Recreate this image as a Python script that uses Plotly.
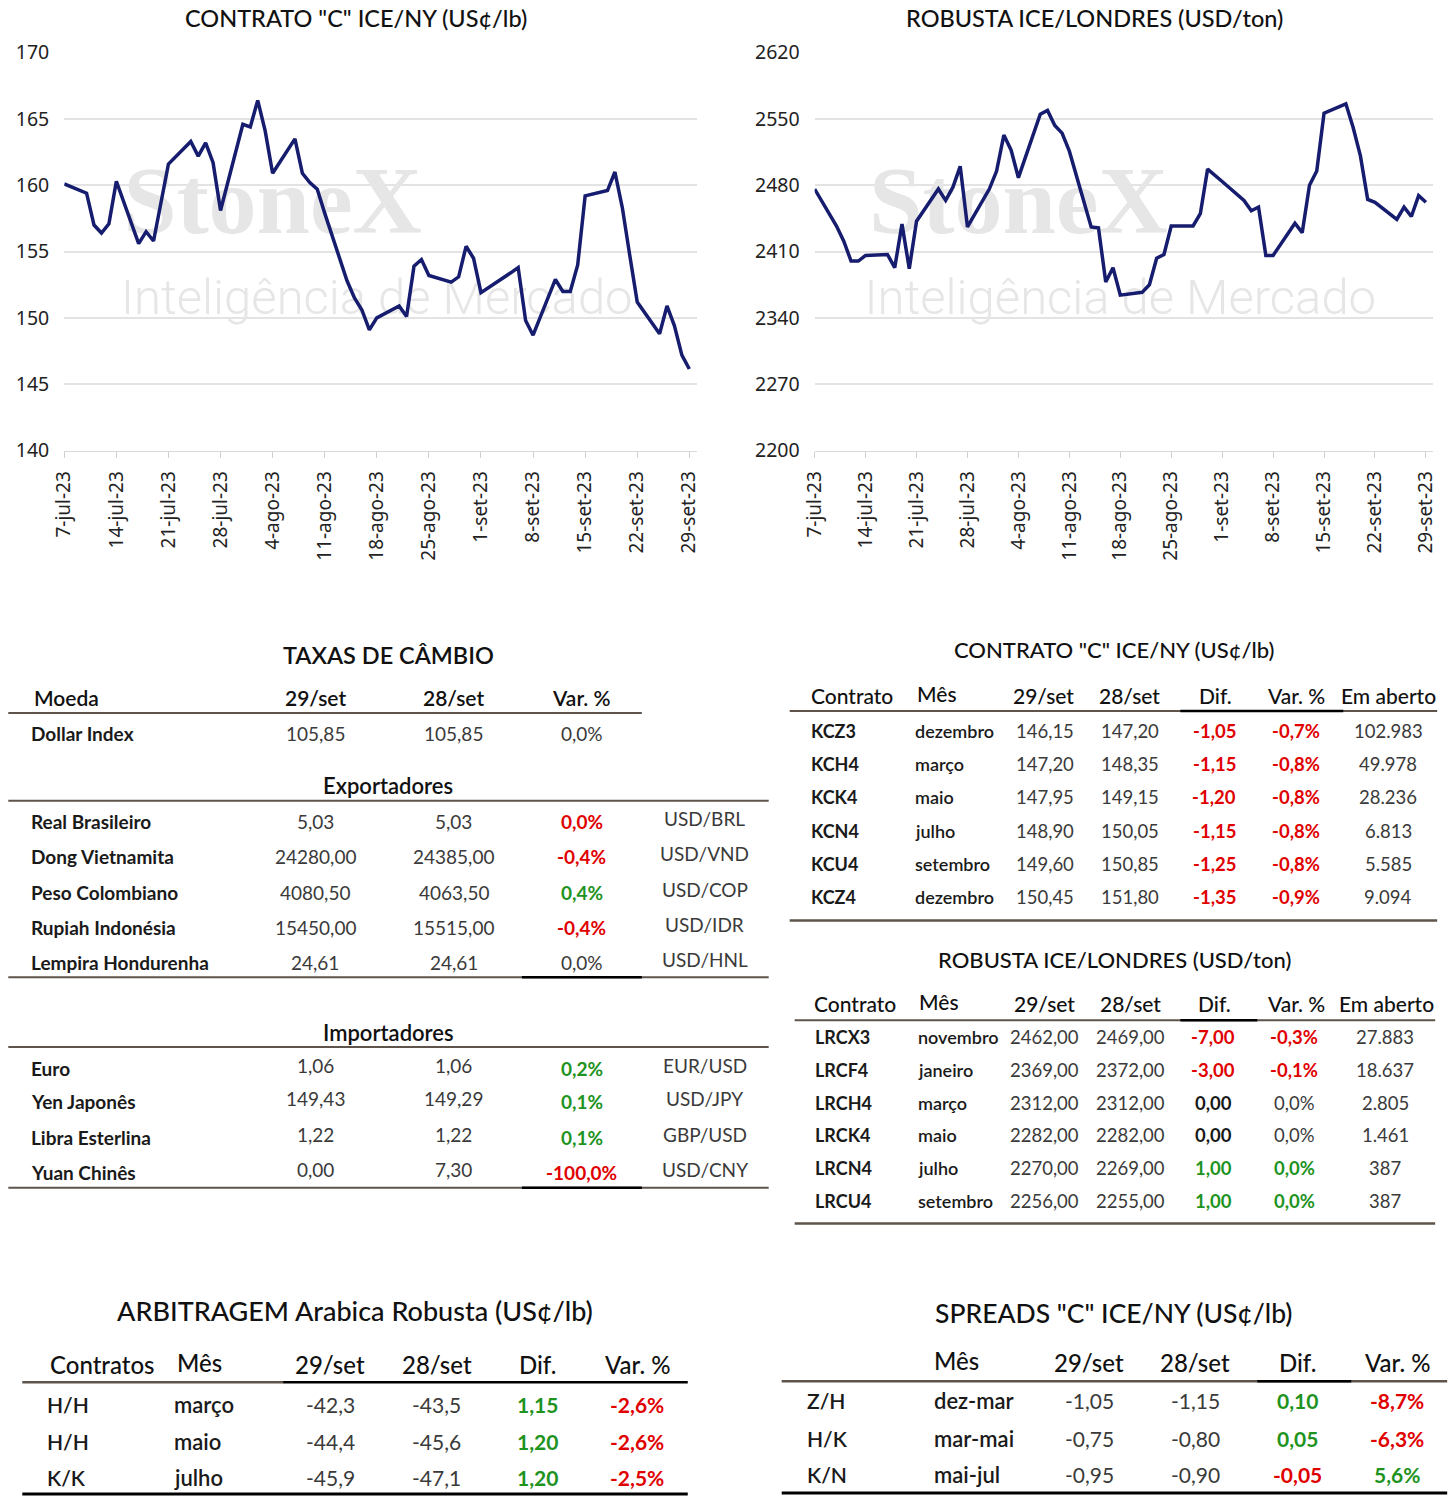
import plotly.graph_objects as go

W, H = 1453, 1500

# ---------------- chart data ----------------
ara_dates = ["2023-07-07", "2023-07-10", "2023-07-11", "2023-07-12", "2023-07-13", "2023-07-14",
             "2023-07-17", "2023-07-18", "2023-07-19", "2023-07-20", "2023-07-21",
             "2023-07-24", "2023-07-25", "2023-07-26", "2023-07-27", "2023-07-28",
             "2023-07-31", "2023-08-01", "2023-08-02", "2023-08-03", "2023-08-04",
             "2023-08-07", "2023-08-08", "2023-08-09", "2023-08-10", "2023-08-11",
             "2023-08-14", "2023-08-15", "2023-08-16", "2023-08-17", "2023-08-18",
             "2023-08-21", "2023-08-22", "2023-08-23", "2023-08-24", "2023-08-25",
             "2023-08-28", "2023-08-29", "2023-08-30", "2023-08-31", "2023-09-01",
             "2023-09-05", "2023-09-06", "2023-09-07", "2023-09-08",
             "2023-09-11", "2023-09-12", "2023-09-13", "2023-09-14", "2023-09-15",
             "2023-09-18", "2023-09-19", "2023-09-20", "2023-09-21", "2023-09-22",
             "2023-09-25", "2023-09-26", "2023-09-27", "2023-09-28", "2023-09-29"]
ara_vals = [160.1, 159.4, 157.0, 156.4, 157.1, 160.3,
            155.6, 156.5, 155.8, 158.6, 161.6,
            163.3, 162.2, 163.2, 161.7, 158.1,
            164.6, 164.4, 166.4, 164.1, 160.9,
            163.5, 160.9, 160.2, 159.7, 157.9,
            152.8, 151.5, 150.6, 149.1, 150.0,
            150.9, 150.1, 153.9, 154.4, 153.2,
            152.7, 153.1, 155.4, 154.5, 151.9,
            153.4, 153.8, 149.8, 148.7,
            152.9, 152.0, 152.0, 154.0, 159.2,
            159.6, 161.0, 158.3, 154.7, 151.2,
            148.8, 150.9, 149.4, 147.2, 146.15]

rob_dates = ["2023-07-07", "2023-07-10", "2023-07-11", "2023-07-12", "2023-07-13", "2023-07-14",
             "2023-07-17", "2023-07-18", "2023-07-19", "2023-07-20", "2023-07-21",
             "2023-07-24", "2023-07-25", "2023-07-26", "2023-07-27", "2023-07-28",
             "2023-07-31", "2023-08-01", "2023-08-02", "2023-08-03", "2023-08-04",
             "2023-08-07", "2023-08-08", "2023-08-09", "2023-08-10", "2023-08-11",
             "2023-08-14", "2023-08-15", "2023-08-16", "2023-08-17", "2023-08-18",
             "2023-08-21", "2023-08-22", "2023-08-23", "2023-08-24", "2023-08-25",
             "2023-08-28", "2023-08-29", "2023-08-30", "2023-08-31", "2023-09-01",
             "2023-09-04", "2023-09-05", "2023-09-06", "2023-09-07", "2023-09-08",
             "2023-09-11", "2023-09-12", "2023-09-13", "2023-09-14", "2023-09-15",
             "2023-09-18", "2023-09-19", "2023-09-20", "2023-09-21", "2023-09-22",
             "2023-09-25", "2023-09-26", "2023-09-27", "2023-09-28", "2023-09-29"]
rob_vals = [2476, 2437, 2421, 2400, 2400, 2406,
            2407, 2393, 2439, 2392, 2442,
            2476, 2464, 2478, 2500, 2436,
            2476, 2495, 2533, 2517, 2488,
            2555, 2559, 2543, 2535, 2516,
            2436, 2435, 2378, 2393, 2364,
            2367, 2375, 2403, 2407, 2437,
            2437, 2450, 2497, 2491, 2484,
            2464, 2453, 2457, 2406, 2406,
            2440, 2430, 2480, 2495, 2556,
            2566, 2541, 2511, 2465, 2462,
            2444, 2457, 2447, 2469, 2462]

tick_dates = ["2023-07-07", "2023-07-14", "2023-07-21", "2023-07-28", "2023-08-04", "2023-08-11",
              "2023-08-18", "2023-08-25", "2023-09-01", "2023-09-08", "2023-09-15", "2023-09-22",
              "2023-09-29"]
tick_labels = ["7-jul-23", "14-jul-23", "21-jul-23", "28-jul-23", "4-ago-23", "11-ago-23",
               "18-ago-23", "25-ago-23", "1-set-23", "8-set-23", "15-set-23", "22-set-23",
               "29-set-23"]

title_ara = 'CONTRATO "C" ICE/NY (US¢/lb)'
title_rob = 'ROBUSTA ICE/LONDRES (USD/ton)'

# ---------------- table data ----------------
fx_title = "TAXAS DE CÂMBIO"
fx_header = ["Moeda", "29/set", "28/set", "Var. %"]
dollar_row = ["Dollar Index", "105,85", "105,85", "0,0%"]
exp_title = "Exportadores"
exp_names = ["Real Brasileiro", "Dong Vietnamita", "Peso Colombiano", "Rupiah Indonésia", "Lempira Hondurenha"]
exp_d1 = ["5,03", "24280,00", "4080,50", "15450,00", "24,61"]
exp_d0 = ["5,03", "24385,00", "4063,50", "15515,00", "24,61"]
exp_var = ["0,0%", "-0,4%", "0,4%", "-0,4%", "0,0%"]
exp_dir = [-1, -1, 1, -1, 0]
exp_pair = ["USD/BRL", "USD/VND", "USD/COP", "USD/IDR", "USD/HNL"]
imp_title = "Importadores"
imp_names = ["Euro", "Yen Japonês", "Libra Esterlina", "Yuan Chinês"]
imp_d1 = ["1,06", "149,43", "1,22", "0,00"]
imp_d0 = ["1,06", "149,29", "1,22", "7,30"]
imp_var = ["0,2%", "0,1%", "0,1%", "-100,0%"]
imp_dir = [1, 1, 1, -1]
imp_pair = ["EUR/USD", "USD/JPY", "GBP/USD", "USD/CNY"]

fut_header = ["Contrato", "Mês", "29/set", "28/set", "Dif.", "Var. %", "Em aberto"]
kc_title = 'CONTRATO "C" ICE/NY (US¢/lb)'
kc_codes = ["KCZ3", "KCH4", "KCK4", "KCN4", "KCU4", "KCZ4"]
kc_months = ["dezembro", "março", "maio", "julho", "setembro", "dezembro"]
kc_d1 = ["146,15", "147,20", "147,95", "148,90", "149,60", "150,45"]
kc_d0 = ["147,20", "148,35", "149,15", "150,05", "150,85", "151,80"]
kc_dif = ["-1,05", "-1,15", "-1,20", "-1,15", "-1,25", "-1,35"]
kc_var = ["-0,7%", "-0,8%", "-0,8%", "-0,8%", "-0,8%", "-0,9%"]
kc_oi = ["102.983", "49.978", "28.236", "6.813", "5.585", "9.094"]

rc_title = "ROBUSTA ICE/LONDRES (USD/ton)"
rc_codes = ["LRCX3", "LRCF4", "LRCH4", "LRCK4", "LRCN4", "LRCU4"]
rc_months = ["novembro", "janeiro", "março", "maio", "julho", "setembro"]
rc_d1 = ["2462,00", "2369,00", "2312,00", "2282,00", "2270,00", "2256,00"]
rc_d0 = ["2469,00", "2372,00", "2312,00", "2282,00", "2269,00", "2255,00"]
rc_dif = ["-7,00", "-3,00", "0,00", "0,00", "1,00", "1,00"]
rc_var = ["-0,3%", "-0,1%", "0,0%", "0,0%", "0,0%", "0,0%"]
rc_oi = ["27.883", "18.637", "2.805", "1.461", "387", "387"]

arb_title = "ARBITRAGEM Arabica Robusta (US¢/lb)"
arb_header = ["Contratos", "Mês", "29/set", "28/set", "Dif.", "Var. %"]
arb_codes = ["H/H", "H/H", "K/K"]
arb_months = ["março", "maio", "julho"]
arb_d1 = ["-42,3", "-44,4", "-45,9"]
arb_d0 = ["-43,5", "-45,6", "-47,1"]
arb_dif = ["1,15", "1,20", "1,20"]
arb_var = ["-2,6%", "-2,6%", "-2,5%"]

spr_title = 'SPREADS "C" ICE/NY (US¢/lb)'
spr_header = ["", "Mês", "29/set", "28/set", "Dif.", "Var. %"]
spr_codes = ["Z/H", "H/K", "K/N"]
spr_months = ["dez-mar", "mar-mai", "mai-jul"]
spr_d1 = ["-1,05", "-0,75", "-0,95"]
spr_d0 = ["-1,15", "-0,80", "-0,90"]
spr_dif = ["0,10", "0,05", "-0,05"]
spr_var = ["-8,7%", "-6,3%", "5,6%"]

# ---------------- styling ----------------
NAVY = "#161C6E"
RED = "#E00000"
GREEN = "#1E931E"
BROWN = "#5E544B"
TXT = "#1A1A1A"
VAL = "#3A3A3A"
GRID = "#E3E3E3"
TF = "Lato"
ROW = 19      # upper tables body text size
HDR = 21      # upper tables header size

# page-pixel -> paper mapping (compensates the renderer's inset)
AX, BX = 0.9877, 13.7
AY, BY = 0.9845, 13.3


def PX(px):
    return ((px - BX) / AX) / W


def PY(py):
    return 1 - ((py - BY) / AY) / H


annotations = []
shapes = []


def txt(x, y, s, size=18, color=TXT, weight=400, anchor="center", family=TF):
    annotations.append(dict(x=PX(x), y=PY(y), xref="paper", yref="paper", text=s,
                            showarrow=False, xanchor=anchor, yanchor="middle",
                            font=dict(family=family, size=size, color=color, weight=weight)))


def hline(x0, x1, y, color=BROWN, width=2):
    shapes.append(dict(type="line", xref="paper", yref="paper", x0=PX(x0), x1=PX(x1),
                       y0=PY(y), y1=PY(y), line=dict(color=color, width=width)))


def sign_of(s):
    if s.startswith("-"):
        return -1
    digits = [c for c in s if c.isdigit()]
    return 0 if all(c == "0" for c in digits) else 1


def colour(sg):
    return RED if sg < 0 else (GREEN if sg > 0 else TXT)


fig = go.Figure()

# watermarks (drawn first, behind lines)
for xa, ya, yd1, yd2 in [("x", "y", 158.2, 151.2), ("x2", "y2", 2455, 2357)]:
    fig.add_trace(go.Scatter(x=["2023-08-04"], y=[yd1], mode="text", text=["<b>StoneX</b>"],
                             textfont=dict(family="Liberation Serif", size=96, color="#E6E6E6"),
                             xaxis=xa, yaxis=ya, hoverinfo="skip", showlegend=False))
    fig.add_trace(go.Scatter(x=["2023-08-18"], y=[yd2], mode="text", text=["Inteligência de Mercado"],
                             textfont=dict(family="Roboto", size=49, color="#E6E6E6", weight=300),
                             xaxis=xa, yaxis=ya, hoverinfo="skip", showlegend=False))

fig.add_trace(go.Scatter(x=ara_dates, y=ara_vals, mode="lines", line=dict(color=NAVY, width=3.5),
                         xaxis="x", yaxis="y", showlegend=False))
fig.add_trace(go.Scatter(x=rob_dates, y=rob_vals, mode="lines", line=dict(color=NAVY, width=3.5),
                         xaxis="x2", yaxis="y2", showlegend=False))

xcommon = dict(type="date", range=["2023-07-07", "2023-09-30"], tickvals=tick_dates,
               ticktext=tick_labels, tickangle=-90, ticks="outside", ticklen=6,
               tickcolor="#D0D0D0", showline=True, linecolor="#D9D9D9", linewidth=1,
               showgrid=False, zeroline=False, ticklabelstandoff=6,
               tickfont=dict(family="Noto Sans", size=19, color="#222"))
ycommon = dict(showgrid=True, gridcolor=GRID, gridwidth=1.5, zeroline=False, showline=False,
               ticks="", ticklabelstandoff=14, tickfont=dict(family="Noto Sans", size=19.5, color="#222"))

ydom = [PY(451), PY(52)]
fig.update_layout(
    width=W, height=H, autosize=False,
    margin=dict(l=0, r=0, t=0, b=0, pad=0),
    paper_bgcolor="white", plot_bgcolor="white", showlegend=False,
    xaxis=dict(domain=[PX(64), PX(697)], anchor="y", **xcommon),
    yaxis=dict(domain=ydom, anchor="x", range=[140, 170], tick0=140, dtick=5, **ycommon),
    xaxis2=dict(domain=[PX(815), PX(1434)], anchor="y2", **xcommon),
    yaxis2=dict(domain=ydom, anchor="x2", range=[2200, 2620], tick0=2200, dtick=70, **ycommon),
)

# chart titles
txt(356, 17, title_ara, size=23.5, color="#111", weight=500)
txt(1095, 17, title_rob, size=23.5, color="#111", weight=500)

# ---------------- FX table ----------------
fx_cols = [315, 454, 582]
txt(388, 656, fx_title, size=23.5, weight=600, color="#111")
txt(32, 699, fx_header[0], size=HDR, weight=600, anchor="left", color="#111")
for cx, h in zip(fx_cols, fx_header[1:]):
    txt(cx, 699, h, size=HDR, weight=600, color="#111")
hline(8, 642, 714)
txt(29, 735, dollar_row[0], size=ROW, weight=700, anchor="left")
for cx, v in zip(fx_cols, dollar_row[1:]):
    txt(cx, 735, v, size=ROW, color=VAL)

txt(388, 787, exp_title, size=22, weight=600, color="#111")
hline(8, 769, 802)
for i, yy in enumerate([823, 858, 894, 929, 964]):
    txt(29, yy, exp_names[i], size=ROW, weight=700, anchor="left")
    txt(fx_cols[0], yy, exp_d1[i], size=ROW, color=VAL)
    txt(fx_cols[1], yy, exp_d0[i], size=ROW, color=VAL)
    d = exp_dir[i]
    txt(fx_cols[2], yy, exp_var[i], size=ROW, color=colour(d) if d else VAL, weight=700 if d else 400)
    txt(705, yy - 3, exp_pair[i], size=ROW, color=VAL)
hline(8, 769, 979)
hline(522, 642, 979, color="#000", width=2.5)

txt(388, 1034, imp_title, size=22, weight=600, color="#111")
hline(8, 769, 1049)
for i, yy in enumerate([1070, 1104, 1140, 1175]):
    txt(29, yy, imp_names[i], size=ROW, weight=700, anchor="left")
    txt(fx_cols[0], yy - 3, imp_d1[i], size=ROW, color=VAL)
    txt(fx_cols[1], yy - 3, imp_d0[i], size=ROW, color=VAL)
    d = imp_dir[i]
    txt(fx_cols[2], yy, imp_var[i], size=ROW, color=colour(d) if d else VAL, weight=700 if d else 400)
    txt(705, yy - 3, imp_pair[i], size=ROW, color=VAL)
hline(8, 769, 1190)
hline(522, 642, 1190, color="#000", width=2.5)


# ---------------- futures tables ----------------
def fut_table(title, ty, hy, ly, lx0, lx1, bx0, bx1, rows_y, codes, months, d1, d0, dif, var, oi,
              hx, cx):
    txt(1115, ty, title, size=22, weight=500, color="#111")
    txt(hx[0], hy, fut_header[0], size=HDR, weight=500, color="#111")
    txt(hx[1], hy - 2, fut_header[1], size=HDR, weight=500, color="#111", anchor="left")
    for x, h in zip(hx[2:], fut_header[2:]):
        txt(x, hy, h, size=HDR, weight=500, color="#111")
    hline(lx0, lx1, ly)
    hline(bx0, bx1, ly, color="#000", width=2.5)
    for i, yy in enumerate(rows_y):
        txt(cx[0], yy, codes[i], size=ROW - 1, weight=700, anchor="left")
        txt(cx[1], yy, months[i], size=ROW - 1, weight=600, anchor="left")
        txt(cx[2], yy, d1[i], size=ROW - 0.5, color=VAL)
        txt(cx[3], yy, d0[i], size=ROW - 0.5, color=VAL)
        sd = sign_of(dif[i])
        txt(cx[4], yy, dif[i], size=ROW - 0.5, weight=700, color=colour(sd))
        sv = sign_of(var[i]) or sd
        txt(cx[5], yy, var[i], size=ROW - 0.5, weight=700 if sv else 400, color=colour(sv) if sv else VAL)
        txt(cx[6], yy, oi[i], size=ROW - 0.5, color=VAL)


fut_table(kc_title, 650, 697, 712, 790, 1438, 1181, 1344, [732, 765, 798, 832, 865, 899],
          kc_codes, kc_months, kc_d1, kc_d0, kc_dif, kc_var, kc_oi,
          [852, 915, 1044, 1130, 1216, 1297, 1389], [809, 913, 1046, 1131, 1215, 1297, 1389])
hline(790, 1438, 922, width=2.5)

fut_table(rc_title, 961, 1005, 1022, 795, 1436, 1181, 1258, [1039, 1072, 1105, 1137, 1170, 1203],
          rc_codes, rc_months, rc_d1, rc_d0, rc_dif, rc_var, rc_oi,
          [855, 917, 1045, 1131, 1215, 1297, 1387], [813, 916, 1045, 1131, 1214, 1295, 1386])
hline(795, 1436, 1226, width=2.5)


# ---------------- bottom tables ----------------
def small_table(title, tx, ty, tsize, header, hy, hx, codes, months, d1, d0, dif, var, rows_y, cx):
    txt(tx, ty, title, size=tsize, weight=500, color="#111")
    for j, h in enumerate(header):
        if not h:
            continue
        if j < 2:
            txt(hx[j], hy - (2 if j == 1 else 0), h, size=24, weight=500, color="#111", anchor="left")
        else:
            txt(hx[j], hy, h, size=24, weight=500, color="#111")
    for i, yy in enumerate(rows_y):
        txt(cx[0], yy, codes[i], size=21, weight=600, anchor="left")
        txt(cx[1], yy, months[i], size=22, weight=600, anchor="left")
        txt(cx[2], yy, d1[i], size=21, color=VAL)
        txt(cx[3], yy, d0[i], size=21, color=VAL)
        txt(cx[4], yy, dif[i], size=21, weight=700, color=colour(sign_of(dif[i])))
        txt(cx[5], yy, var[i], size=21, weight=700, color=colour(sign_of(var[i])))


small_table(arb_title, 355, 1313, 27, arb_header, 1367, [48, 175, 330, 437, 538, 638],
            arb_codes, arb_months, arb_d1, arb_d0, arb_dif, arb_var, [1407, 1444, 1481],
            [45, 172, 330, 437, 538, 637])
hline(22, 283, 1385, width=2.5)
hline(283, 688, 1385, color="#000", width=2.5)
hline(22, 688, 1497, color="#000", width=3)

small_table(spr_title, 1114, 1316, 26.5, spr_header, 1365, [805, 932, 1090, 1196, 1298, 1398],
            spr_codes, spr_months, spr_d1, spr_d0, spr_dif, spr_var, [1403, 1441, 1478],
            [805, 932, 1090, 1196, 1298, 1398])
hline(782, 1448, 1384, width=2.5)
hline(1258, 1352, 1384, color="#000", width=2.5)
hline(782, 1448, 1496, color="#000", width=3)

fig.update_layout(annotations=annotations, shapes=shapes)

pin_page = ("document.documentElement.style.margin='0';document.body.style.margin='0';"
            "document.body.style.overflow='hidden';"
            "var gd=document.getElementById('{plot_id}');gd.style.position='fixed';"
            "gd.style.top='0px';gd.style.left='0px';")
fig.write_html("out.html", post_script=pin_page, config={"displayModeBar": False})
